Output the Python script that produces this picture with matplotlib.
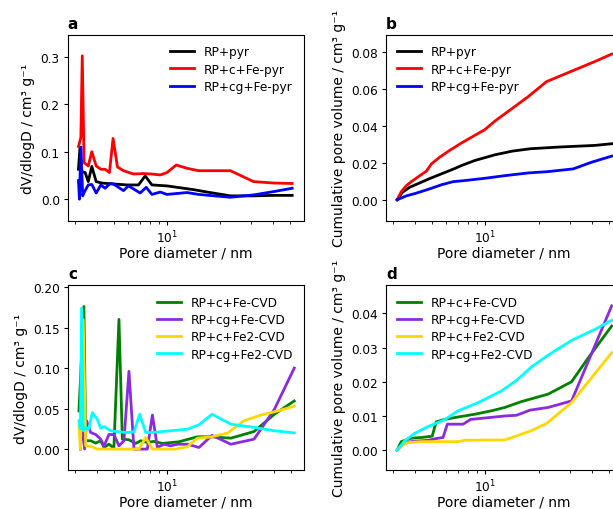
import matplotlib
matplotlib.use("Agg")
import matplotlib.pyplot as plt
from matplotlib.ticker import NullFormatter

# ---------------- Panel a: dV/dlogD ----------------
a_pyr_x = [3.15, 3.21, 3.29, 3.44, 3.58, 3.75, 3.97, 4.27, 4.97, 5.93, 6.90, 7.53, 8.22, 10.0, 11.4, 14.2, 16.9, 22.9, 31.0, 40.4, 51.3]
a_pyr_y = [0.063, 0.107, 0.058, 0.056, 0.037, 0.069, 0.037, 0.034, 0.032, 0.030, 0.030, 0.049, 0.030, 0.028, 0.025, 0.020, 0.015, 0.007, 0.007, 0.008, 0.008]

a_cfe_x = [3.15, 3.25, 3.31, 3.39, 3.58, 3.75, 3.97, 4.22, 4.46, 4.72, 4.95, 5.24, 5.67, 6.46, 7.36, 8.2, 9.16, 10.0, 11.3, 13.0, 15.1, 18.4, 22.9, 31.0, 40.4, 51.3]
a_cfe_y = [0.111, 0.13, 0.302, 0.077, 0.070, 0.100, 0.070, 0.063, 0.063, 0.056, 0.128, 0.068, 0.060, 0.053, 0.054, 0.053, 0.051, 0.056, 0.072, 0.065, 0.060, 0.060, 0.060, 0.037, 0.034, 0.033]

a_cgfe_x = [3.15, 3.19, 3.25, 3.33, 3.39, 3.58, 3.75, 3.97, 4.22, 4.46, 4.76, 4.97, 5.67, 6.05, 7.05, 7.63, 8.22, 9.16, 10.0, 13.0, 15.1, 22.9, 31.0, 40.4, 51.3]
a_cgfe_y = [0.039, 0.0, 0.11, 0.007, 0.014, 0.030, 0.031, 0.013, 0.030, 0.023, 0.033, 0.032, 0.018, 0.028, 0.013, 0.025, 0.010, 0.015, 0.010, 0.014, 0.010, 0.004, 0.009, 0.016, 0.023]

# ---------------- Panel b: cumulative ----------------
b_pyr_x = [3.16, 3.38, 3.71, 4.24, 4.87, 5.63, 6.78, 7.31, 8.69, 11.3, 14.2, 18.0, 26.0, 41.8, 52.0]
b_pyr_y = [0.0002, 0.0042, 0.0069, 0.0093, 0.0118, 0.0142, 0.0173, 0.0187, 0.0214, 0.0245, 0.0265, 0.0278, 0.0287, 0.0296, 0.0305]

b_cfe_x = [3.16, 3.33, 3.56, 3.80, 4.24, 4.62, 4.94, 5.50, 6.27, 7.31, 8.69, 9.91, 11.3, 13.5, 17.5, 22.2, 32.2, 41.8, 52.0]
b_cfe_y = [0.0002, 0.0045, 0.0078, 0.010, 0.0132, 0.0156, 0.0196, 0.0232, 0.0269, 0.0309, 0.035, 0.0381, 0.0427, 0.0481, 0.056, 0.0641, 0.0705, 0.075, 0.079]

b_cgfe_x = [3.16, 3.56, 4.0, 4.8, 5.63, 6.57, 7.5, 9.91, 12.8, 17.5, 22.5, 31.5, 40.0, 52.0]
b_cgfe_y = [0.0002, 0.0023, 0.0036, 0.006, 0.0083, 0.010, 0.0105, 0.0118, 0.0132, 0.0147, 0.0154, 0.0169, 0.0205, 0.0238]

# ---------------- Panel c: dV/dlogD (CVD) ----------------
c_cfe_x = [3.15, 3.36, 3.44, 3.67, 3.92, 4.18, 4.37, 4.66, 4.97, 5.31, 5.55, 6.05, 6.61, 7.05, 7.69, 8.39, 9.37, 11.6, 14.8, 17.6, 22.9, 31.0, 40.4, 52.4]
c_cfe_y = [0.047, 0.176, 0.0103, 0.0103, 0.0074, 0.0103, 0.002, 0.0061, 0.0012, 0.160, 0.0123, 0.0115, 0.007, 0.0103, 0.0082, 0.0095, 0.007, 0.009, 0.0152, 0.0152, 0.0135, 0.0217, 0.043, 0.0594]

c_cgfe_x = [3.21, 3.29, 3.39, 3.48, 3.67, 3.92, 4.18, 4.37, 4.66, 4.97, 5.31, 5.67, 6.05, 6.46, 7.05, 7.69, 8.22, 8.77, 9.56, 10.4, 11.4, 13.0, 15.1, 17.9, 22.9, 31.0, 40.4, 52.4]
c_cgfe_y = [0.0, 0.035, 0.0, 0.035, 0.0205, 0.018, 0.0123, 0.004, 0.018, 0.018, 0.004, 0.0103, 0.096, 0.0, 0.0, 0.0, 0.042, 0.002, 0.006, 0.004, 0.006, 0.006, 0.002, 0.017, 0.006, 0.0123, 0.049, 0.100]

c_cfe2_x = [3.15, 3.21, 3.33, 3.44, 3.67, 4.0, 4.97, 5.93, 6.90, 7.53, 8.22, 9.16, 11.1, 13.0, 14.8, 17.6, 21.9, 27.2, 33.9, 42.1, 52.4]
c_cfe2_y = [0.029, 0.0, 0.160, 0.004, 0.0035, 0.0, 0.0, 0.0, 0.0, 0.0143, 0.0, 0.0, 0.0, 0.003, 0.0135, 0.015, 0.0197, 0.035, 0.042, 0.047, 0.053]

c_cgfe2_x = [3.15, 3.21, 3.26, 3.33, 3.44, 3.58, 3.75, 4.0, 4.18, 4.37, 4.76, 5.31, 5.93, 6.46, 6.96, 7.53, 8.22, 10.4, 13.0, 15.1, 17.9, 22.9, 31.0, 40.4, 52.4]
c_cgfe2_y = [0.035, 0.025, 0.174, 0.0226, 0.0267, 0.0246, 0.045, 0.0369, 0.0258, 0.0279, 0.0226, 0.0213, 0.0205, 0.0213, 0.043, 0.0205, 0.0205, 0.0226, 0.0246, 0.030, 0.043, 0.0307, 0.0267, 0.0226, 0.020]

# ---------------- Panel d: cumulative (CVD) ----------------
d_cfe_x = [3.16, 3.33, 3.80, 4.33, 4.99, 5.26, 5.87, 6.99, 8.69, 10.8, 12.9, 16.0, 22.7, 30.8, 38.3, 52.0]
d_cfe_y = [0.0, 0.0025, 0.0035, 0.0037, 0.0041, 0.0083, 0.009, 0.0097, 0.0105, 0.0115, 0.0125, 0.0142, 0.0164, 0.020, 0.027, 0.0363]

d_cgfe_x = [3.16, 3.40, 3.80, 4.73, 5.26, 5.75, 6.08, 7.47, 8.25, 9.49, 12.9, 15.0, 17.9, 22.7, 30.8, 39.8, 52.0]
d_cgfe_y = [0.0, 0.0018, 0.0025, 0.0029, 0.0034, 0.0037, 0.0076, 0.0076, 0.009, 0.0093, 0.010, 0.0102, 0.0117, 0.0125, 0.0144, 0.028, 0.0422]

d_cfe2_x = [3.16, 3.33, 3.64, 4.33, 6.99, 7.63, 12.9, 14.7, 18.2, 22.2, 30.8, 52.0]
d_cfe2_y = [0.0, 0.0013, 0.0022, 0.0025, 0.0025, 0.0029, 0.003, 0.004, 0.0057, 0.0078, 0.0139, 0.0285]

d_cgfe2_x = [3.16, 3.48, 3.97, 4.73, 5.87, 6.99, 9.09, 12.3, 15.0, 18.2, 22.7, 30.8, 41.7, 52.0]
d_cgfe2_y = [0.0, 0.0027, 0.0049, 0.0069, 0.0089, 0.0115, 0.0139, 0.0173, 0.0204, 0.0243, 0.0278, 0.0321, 0.0353, 0.038]

labels_ab = ["RP+pyr", "RP+c+Fe-pyr", "RP+cg+Fe-pyr"]
labels_cd = ["RP+c+Fe-CVD", "RP+cg+Fe-CVD", "RP+c+Fe2-CVD", "RP+cg+Fe2-CVD"]
colors_ab = ["black", "red", "blue"]
colors_cd = ["green", "blueviolet", "gold", "cyan"]

W, H = 613, 510
fig = plt.figure(figsize=(W / 100, H / 100), dpi=100)

def rect(left, top, right, bottom):
    return [left / W, 1 - bottom / H, (right - left) / W, (bottom - top) / H]

ax_a = fig.add_axes(rect(67.5, 35.5, 303.5, 222))
ax_b = fig.add_axes(rect(386, 35.5, 622, 222))
ax_c = fig.add_axes(rect(68, 286, 304, 471))
ax_d = fig.add_axes(rect(386, 286, 622, 471))

fs_tick = 8.7
fs_lab = 10
fs_leg = 8.7
lw = 2

for xs, ys, lab, col in zip([a_pyr_x, a_cfe_x, a_cgfe_x], [a_pyr_y, a_cfe_y, a_cgfe_y], labels_ab, colors_ab):
    ax_a.plot(xs, ys, color=col, lw=lw, label=lab)
for xs, ys, lab, col in zip([b_pyr_x, b_cfe_x, b_cgfe_x], [b_pyr_y, b_cfe_y, b_cgfe_y], labels_ab, colors_ab):
    ax_b.plot(xs, ys, color=col, lw=lw, label=lab)
for xs, ys, lab, col in zip([c_cfe_x, c_cgfe_x, c_cfe2_x, c_cgfe2_x], [c_cfe_y, c_cgfe_y, c_cfe2_y, c_cgfe2_y], labels_cd, colors_cd):
    ax_c.plot(xs, ys, color=col, lw=lw, label=lab)
for xs, ys, lab, col in zip([d_cfe_x, d_cgfe_x, d_cfe2_x, d_cgfe2_x], [d_cfe_y, d_cgfe_y, d_cfe2_y, d_cgfe2_y], labels_cd, colors_cd):
    ax_d.plot(xs, ys, color=col, lw=lw, label=lab)

ax_a.set_ylim(-0.046, 0.347)
ax_b.set_ylim(-0.0113, 0.0896)
ax_c.set_ylim(-0.0258, 0.2025)
ax_d.set_ylim(-0.0058, 0.0483)
ax_a.set_yticks([0.0, 0.1, 0.2, 0.3])
ax_b.set_yticks([0.0, 0.02, 0.04, 0.06, 0.08])
ax_c.set_yticks([0.0, 0.05, 0.10, 0.15, 0.20])
ax_d.set_yticks([0.0, 0.01, 0.02, 0.03, 0.04])

for ax, lab in zip([ax_a, ax_b, ax_c, ax_d], "abcd"):
    ax.set_xscale("log")
    ax.set_xlim(2.73, 59.5)
    ax.xaxis.set_minor_formatter(NullFormatter())
    ax.tick_params(which="major", labelsize=fs_tick, length=3, pad=2.5)
    ax.tick_params(which="minor", length=2)
    ax.set_xlabel("Pore diameter / nm", fontsize=fs_lab, labelpad=0)
    ax.text(0.0, 1.02, lab, transform=ax.transAxes, fontsize=11,
            fontweight="bold", ha="left", va="bottom")

ax_a.set_yticklabels(["0.0", "0.1", "0.2", "0.3"])
ax_a.set_ylabel("dV/dlogD / cm³ g⁻¹", fontsize=fs_lab)
ax_c.set_ylabel("dV/dlogD / cm³ g⁻¹", fontsize=fs_lab)
ax_b.set_ylabel("Cumulative pore volume / cm³ g⁻¹", fontsize=fs_lab)
ax_d.set_ylabel("Cumulative pore volume / cm³ g⁻¹", fontsize=fs_lab)
fig.align_ylabels([ax_a, ax_c])
fig.align_ylabels([ax_b, ax_d])

leg_kw = dict(frameon=False, fontsize=fs_leg, labelspacing=0.35)
ax_a.legend(loc="upper right", **leg_kw)
ax_b.legend(loc="upper left", **leg_kw)
ax_c.legend(loc="upper right", **leg_kw)
ax_d.legend(loc="upper left", **leg_kw)

fig.savefig("out.png", dpi=100)
